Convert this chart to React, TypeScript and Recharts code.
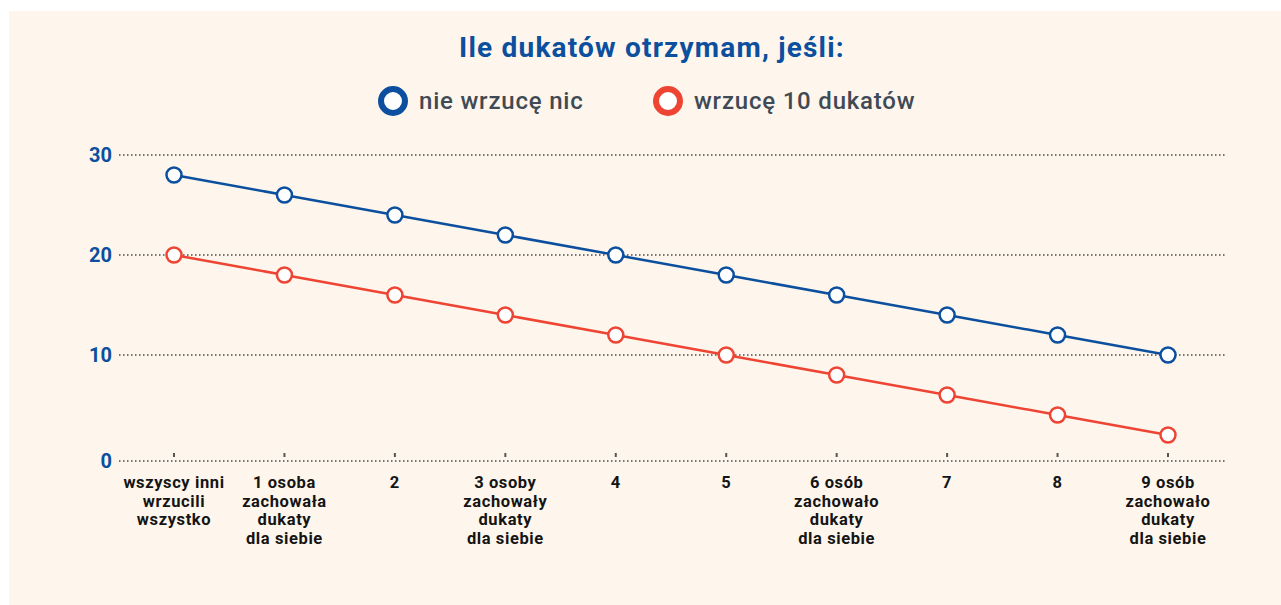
import * as React from "react";
import { CartesianGrid, Line, LineChart, XAxis, YAxis } from "recharts";

const categories = [
  "wszyscy inni\nwrzucili\nwszystko",
  "1 osoba\nzachowała\ndukaty\ndla siebie",
  "2",
  "3 osoby\nzachowały\ndukaty\ndla siebie",
  "4",
  "5",
  "6 osób\nzachowało\ndukaty\ndla siebie",
  "7",
  "8",
  "9 osób\nzachowało\ndukaty\ndla siebie",
];
const nothingIn = [28, 26, 24, 22, 20, 18, 16, 14, 12, 10];
const tenIn = [20, 18, 16, 14, 12, 10, 8, 6, 4, 2];
// the zero line sits a little below the real zero in the original
const yTicks = [-0.6, 10, 20, 30];

const BLUE = "#0b4f9e";
const RED = "#ee4433";
const FONT = "Roboto, 'Noto Sans', sans-serif";

const data = categories.map((c, i) => ({ name: c, a: nothingIn[i], b: tenIn[i] }));

function XTick(props: any) {
  const { x, y, payload } = props;
  const lines = String(payload.value).split("\n");
  return (
    <g>
      <line x1={x} x2={x} y1={y - 8} y2={y - 4} stroke="#555" strokeWidth={2} />
      <text
        x={x}
        y={y + 27}
        textAnchor="middle"
        fill="#141414"
        fontSize={16.5}
        fontWeight={700}
        letterSpacing={0.6}
        fontFamily={FONT}
      >
        {lines.map((l, i) => (
          <tspan key={i} x={x} dy={i === 0 ? 0 : 18.5}>
            {l}
          </tspan>
        ))}
      </text>
    </g>
  );
}

function Ring({ color }: { color: string }) {
  return (
    <span
      style={{
        display: "inline-block",
        width: 18,
        height: 18,
        borderRadius: "50%",
        border: `6px solid ${color}`,
        background: "#fff",
        marginRight: 11,
      }}
    />
  );
}

const legendStyle: React.CSSProperties = {
  position: "absolute",
  top: 75,
  display: "flex",
  alignItems: "center",
  color: "#3f4a54",
  fontSize: 24,
  fontWeight: 500,
  letterSpacing: 0.8,
};

export default function App() {
  return (
    <div
      style={{
        position: "fixed",
        left: 9,
        top: 11,
        width: 1272,
        height: 594,
        background: "#fef6ec",
        fontFamily: FONT,
      }}
    >
      <div
        style={{
          position: "absolute",
          top: 20,
          left: 0,
          width: 1286,
          textAlign: "center",
          color: BLUE,
          fontSize: 28,
          fontWeight: 700,
          letterSpacing: 1.2,
        }}
      >
        Ile dukatów otrzymam, jeśli:
      </div>
      <div style={{ ...legendStyle, left: 369 }}>
        <Ring color={BLUE} />
        <span>nie wrzucę nic</span>
      </div>
      <div style={{ ...legendStyle, left: 644 }}>
        <Ring color={RED} />
        <span>wrzucę 10 dukatów</span>
      </div>
      <LineChart width={1272} height={594} data={data} margin={{ top: 144, right: 56, bottom: 44, left: 50 }}>
        <CartesianGrid vertical={false} stroke="#4a4a4a" strokeWidth={1.5} strokeDasharray="1.5 2.5" />
        <XAxis
          dataKey="name"
          interval={0}
          axisLine={false}
          tickLine={false}
          tickSize={0}
          tickMargin={0}
          height={100}
          padding={{ left: 55, right: 57 }}
          tick={<XTick />}
        />
        <YAxis
          domain={[-0.6, 30]}
          ticks={yTicks}
          tickFormatter={(v: number) => (v < 0 ? "0" : String(v))}
          axisLine={false}
          tickLine={false}
          tickSize={0}
          tickMargin={7}
          width={60}
          tick={{ fill: BLUE, fontSize: 20, fontWeight: 700, fontFamily: FONT }}
        />
        <Line
          dataKey="a"
          stroke={BLUE}
          strokeWidth={2.5}
          dot={{ r: 7.5, fill: "#fff", stroke: BLUE, strokeWidth: 2.5 }}
          isAnimationActive={false}
        />
        <Line
          dataKey="b"
          stroke={RED}
          strokeWidth={2.5}
          dot={{ r: 7.5, fill: "#fff", stroke: RED, strokeWidth: 2.5 }}
          isAnimationActive={false}
        />
      </LineChart>
    </div>
  );
}
